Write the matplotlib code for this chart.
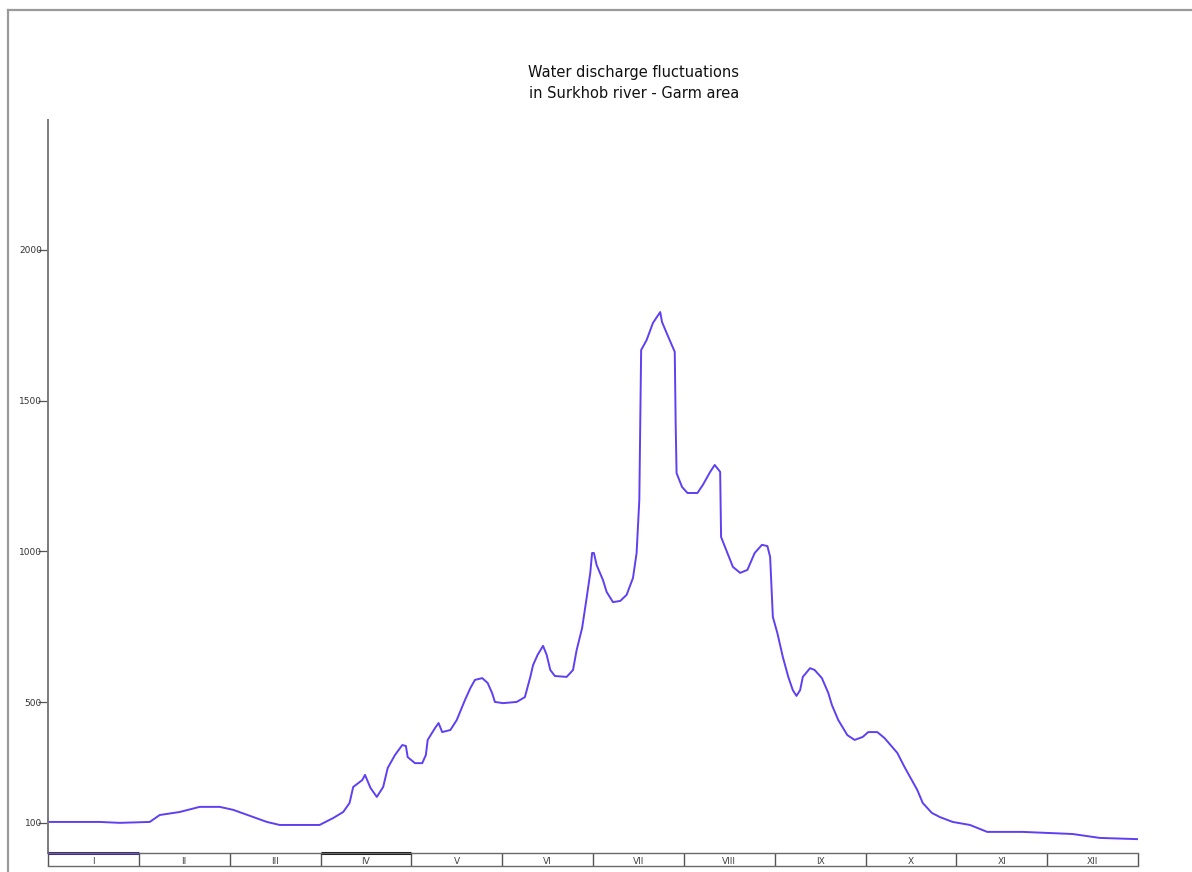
import numpy as np
import matplotlib.pyplot as plt
from matplotlib.lines import Line2D

# discharge curve, x in months from 1 Jan (0..12), y in m3/s
month_pos = [0.00, 0.57, 0.79, 1.12, 1.23, 1.45, 1.67, 1.89, 2.04, 2.26, 2.41, 2.55, 2.99,
             3.14, 3.25, 3.32, 3.36, 3.46, 3.49, 3.55, 3.62, 3.69, 3.74, 3.82, 3.90, 3.94,
             3.96, 4.04, 4.12, 4.16, 4.18, 4.26, 4.30, 4.34, 4.43, 4.50, 4.59, 4.65, 4.70,
             4.78, 4.84, 4.89, 4.92, 5.01, 5.16, 5.25, 5.31, 5.34, 5.39, 5.45, 5.49, 5.53,
             5.58, 5.71, 5.78, 5.82, 5.88, 5.93, 5.97, 5.99, 6.01, 6.04, 6.11, 6.15, 6.22,
             6.30, 6.37, 6.44, 6.48, 6.51, 6.52, 6.53, 6.59, 6.66, 6.74, 6.76, 6.81, 6.90,
             6.91, 6.92, 6.98, 7.04, 7.15, 7.21, 7.29, 7.34, 7.40, 7.41, 7.48, 7.54, 7.62,
             7.70, 7.78, 7.86, 7.92, 7.95, 7.97, 7.98, 8.03, 8.09, 8.15, 8.20, 8.24, 8.28,
             8.31, 8.39, 8.44, 8.52, 8.59, 8.63, 8.70, 8.80, 8.88, 8.97, 9.03, 9.13, 9.21,
             9.35, 9.43, 9.57, 9.63, 9.73, 9.82, 9.96, 10.15, 10.34, 10.73, 11.28, 11.58, 11.99]
discharge = [103, 103, 100, 103, 126, 136, 153, 153, 143, 119, 103, 93, 93,
             116, 136, 166, 219, 242, 259, 216, 186, 219, 282, 325, 358, 355,
             318, 298, 298, 325, 375, 414, 431, 401, 408, 441, 507, 547, 574,
             580, 564, 530, 501, 497, 501, 517, 584, 623, 657, 687, 657, 607,
             587, 584, 607, 673, 746, 846, 929, 995, 995, 955, 905, 866, 832,
             836, 856, 912, 995, 1171, 1426, 1668, 1701, 1758, 1794, 1761, 1725, 1662,
             1426, 1260, 1214, 1194, 1194, 1221, 1264, 1287, 1264, 1048, 995, 949, 929,
             939, 995, 1022, 1018, 982, 849, 783, 729, 650, 584, 540, 521, 540,
             584, 613, 607, 580, 531, 491, 441, 391, 375, 385, 401, 401, 381,
             332, 285, 209, 166, 133, 119, 103, 93, 70, 70, 63, 50, 46]

months = ['I', 'II', 'III', 'IV', 'V', 'VI', 'VII', 'VIII', 'IX', 'X', 'XI', 'XII']
yticks = [100, 500, 1000, 1500, 2000]

W, H = 1192, 872
fig = plt.figure(figsize=(W / 100, H / 100), dpi=100)
fig.patch.set_facecolor('white')

# frame around the picture (cut at right and bottom)
fig.add_artist(Line2D([8 / W, 1], [1 - 10 / H, 1 - 10 / H], color='#9a9a9a', lw=1.6))
fig.add_artist(Line2D([8 / W, 8 / W], [1 - 10 / H, 0], color='#9a9a9a', lw=1.6))

ax = fig.add_axes([48 / W, 1 - 853 / H, 1090 / W, 733 / H])
ax.plot(month_pos, discharge, color='#5f3ff2', lw=1.4)
ax.set_xlim(0, 12)
ax.set_ylim(0, 2431)
for s in ['top', 'right', 'bottom']:
    ax.spines[s].set_visible(False)
ax.spines['left'].set_color('#7a7a7a')
ax.spines['left'].set_linewidth(1.4)
ax.set_xticks([])
ax.set_yticks(yticks)
ax.set_yticklabels([str(v) for v in yticks])
ax.tick_params(axis='y', direction='out', length=7.5, width=0.9, color='#555555',
               pad=-3, labelsize=6.5, labelcolor='#333333')

fig.text(634 / W, 1 - 72 / H, 'Water discharge fluctuations', ha='center', va='center',
         fontsize=10.5, family=['Liberation Sans Narrow', 'DejaVu Sans'], color='#111111')
fig.text(634 / W, 1 - 93 / H, 'in Surkhob river - Garm area', ha='center', va='center',
         fontsize=10.5, family=['Liberation Sans Narrow', 'DejaVu Sans'], color='#111111')

# month strip under the plot
ax2 = fig.add_axes([48 / W, 1 - 866 / H, 1090 / W, 13 / H])
ax2.set_xlim(0, 12)
ax2.set_ylim(0, 1)
ax2.set_xticks([])
ax2.set_yticks([])
for s in ['left', 'right']:
    ax2.spines[s].set_visible(False)
for s in ['top', 'bottom']:
    ax2.spines[s].set_color('#6a6a6a')
    ax2.spines[s].set_linewidth(1.0)
ax2.vlines(range(13), 0, 1, color='#555555', lw=1.0, clip_on=False)
ax2.hlines(1, 0, 1, color='#3a1f9e', lw=2.2, clip_on=False)
ax2.hlines(1, 3, 4, color='#111111', lw=2.2, clip_on=False)
for i, m in enumerate(months):
    ax2.text(i + 0.5, 0.38, m, ha='center', va='center', fontsize=6.5,
             color='#444444', family=['Liberation Sans Narrow', 'DejaVu Sans'])

fig.savefig('out.png', dpi=100, facecolor='white')
